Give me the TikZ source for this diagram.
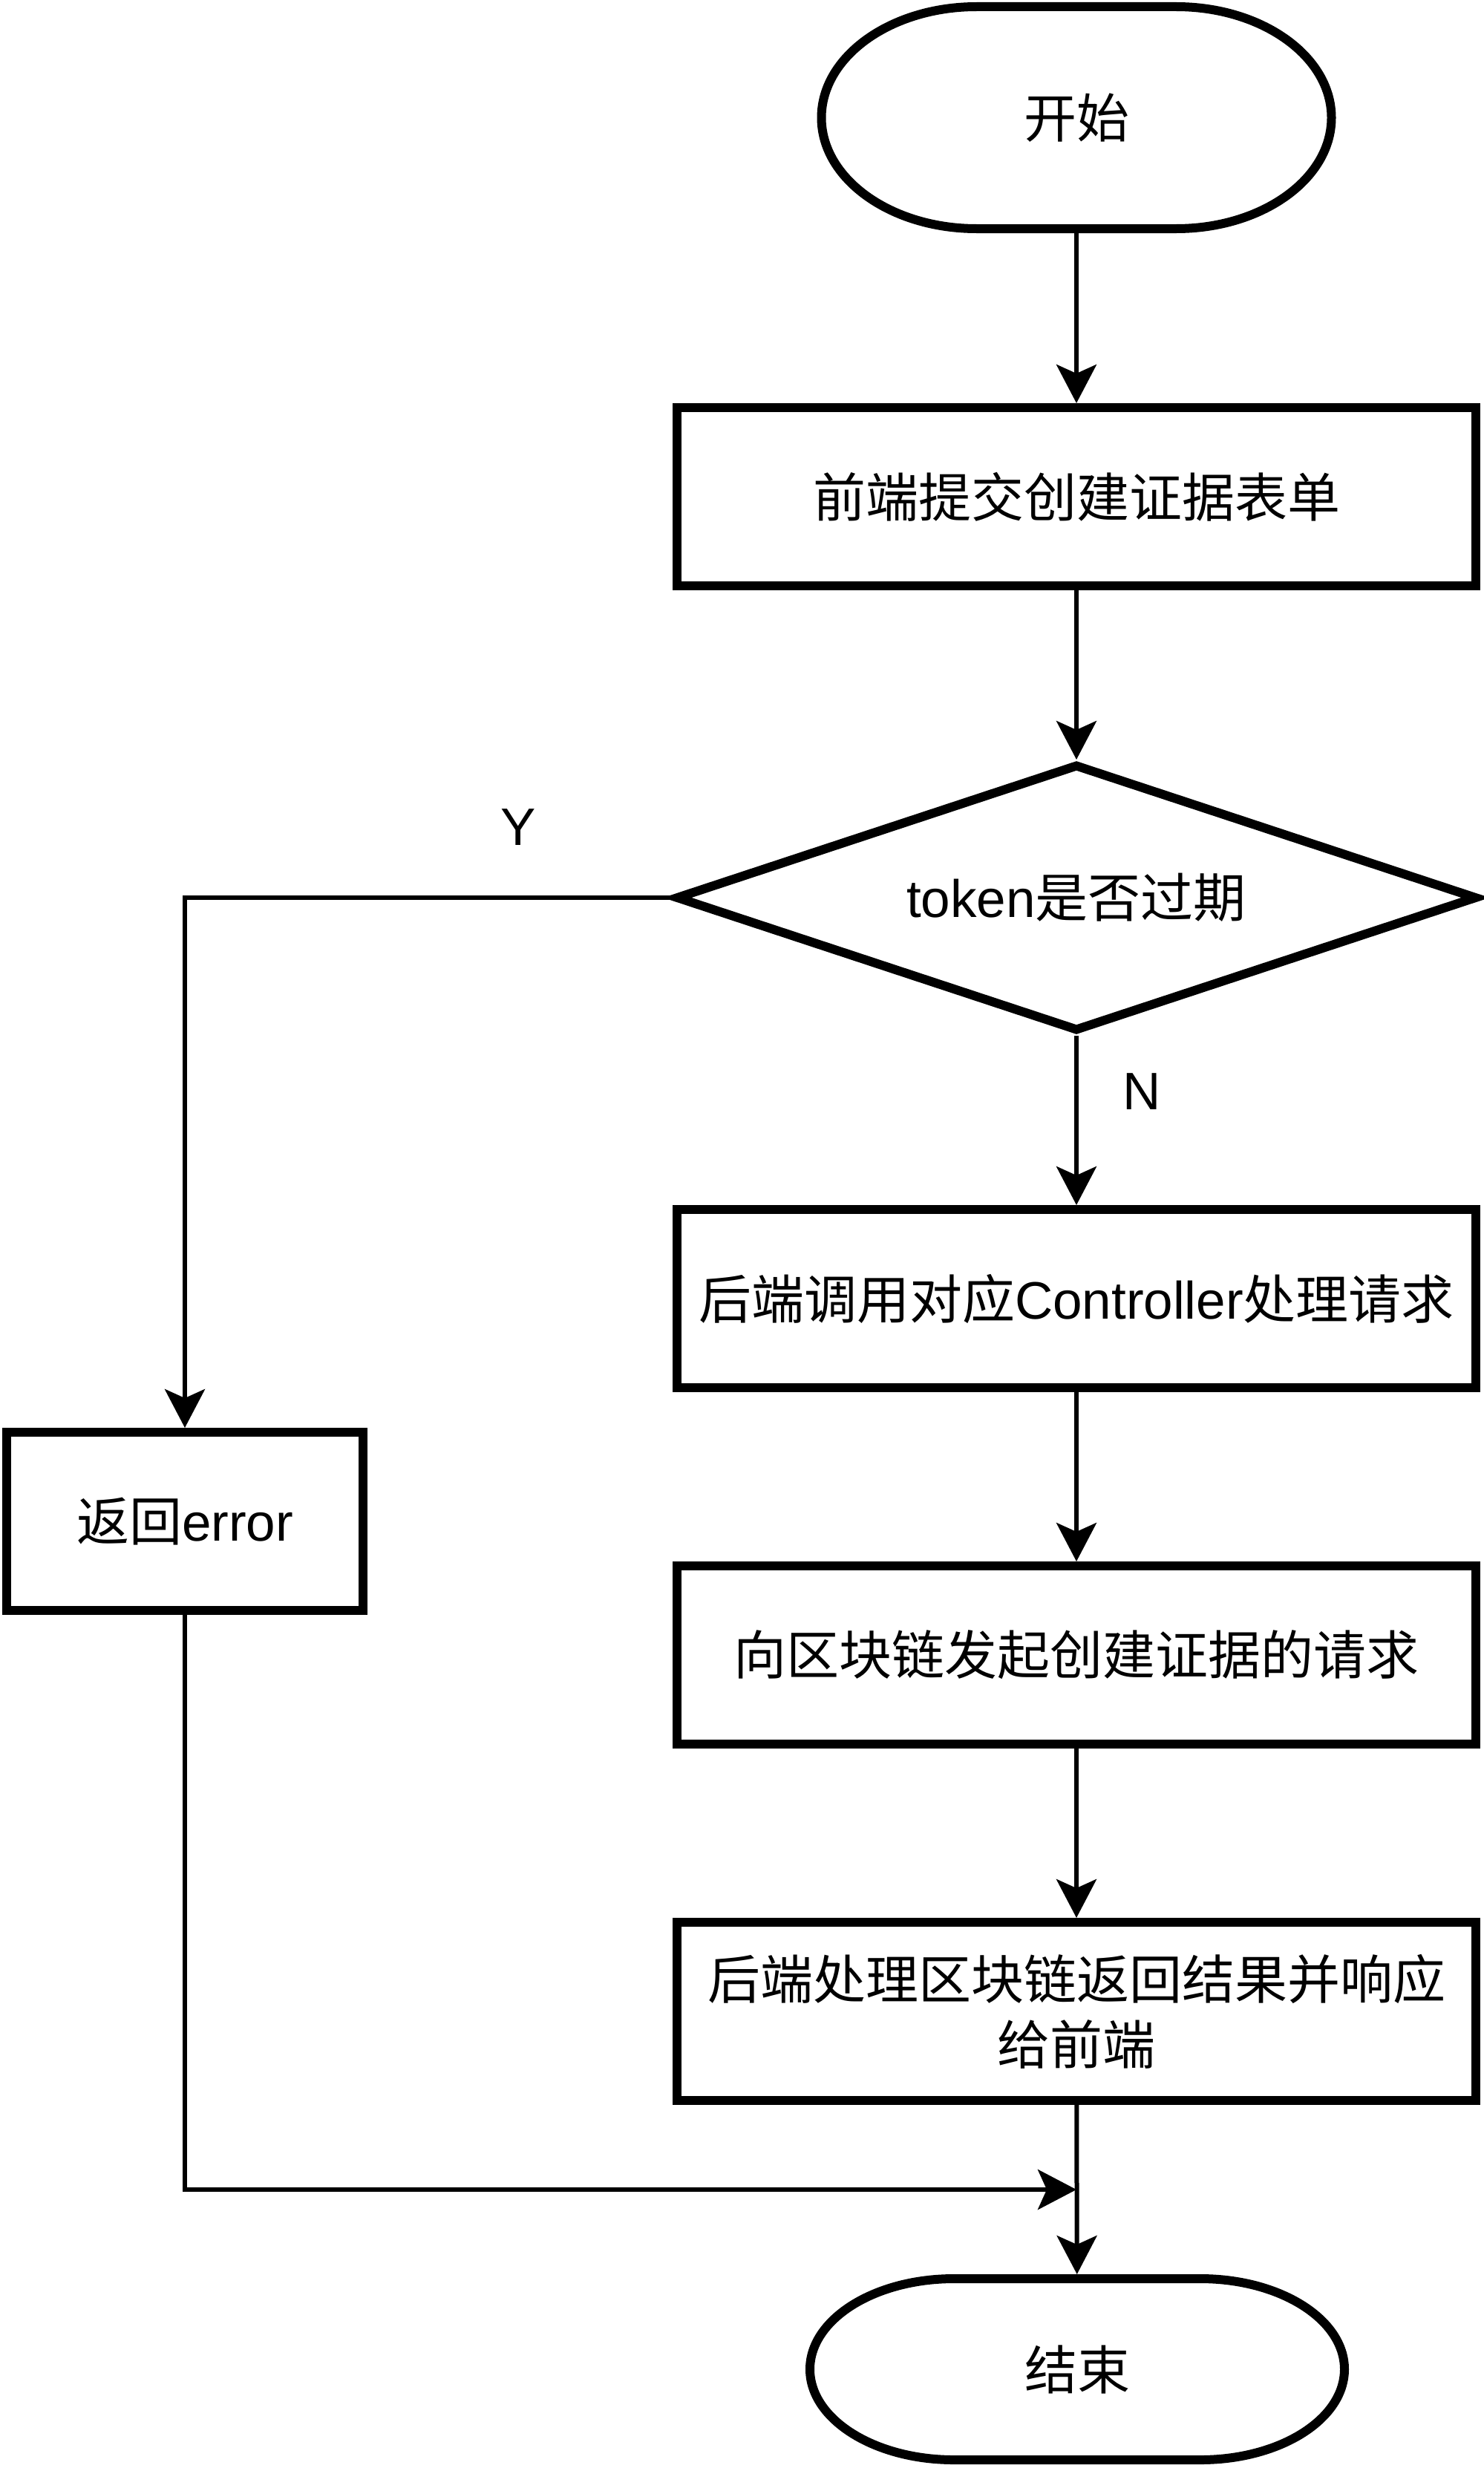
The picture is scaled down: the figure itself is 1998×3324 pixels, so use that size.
\documentclass[tikz,border=0pt]{standalone}
\usepackage{fontspec}
\setmainfont{Liberation Sans}
\newfontfamily\cjk{Noto Sans CJK SC}
\usetikzlibrary{shapes.geometric,arrows.meta}
\newcommand\zh[1]{{\cjk #1}}
% terminator outline: node name, corner x radius, corner y radius
\newcommand\terminator[3]{%
  \draw[line width=6pt]
    ([xshift=#2]#1.north west) -- ([xshift=-#2]#1.north east)
    arc[start angle=90,end angle=-90,x radius=#2,y radius=#3]
    -- ([xshift=#2]#1.south west)
    arc[start angle=270,end angle=90,x radius=#2,y radius=#3] -- cycle;}
\begin{document}
\begin{tikzpicture}[x=0.5pt,y=-0.5pt,
  every node/.style={font=\fontsize{35.5}{44}\selectfont, inner sep=0pt},
  termbox/.style={rectangle, outer sep=0pt},
  proc/.style={draw, line width=6pt, rectangle, minimum width=538pt,
    minimum height=120pt, align=center},
  decision/.style={draw, line width=6pt, diamond, aspect=2.97,
    minimum width=540pt, minimum height=180pt},
  conn/.style={line width=3pt, -{Stealth[length=26pt,width=27pt,inset=6pt]}},
  plain/.style={line width=3pt}]

\fill[white] (0,0) rectangle (1998,3324);
\useasboundingbox (0,0) rectangle (1998,3324);

% terminators
\node[termbox, minimum width=343.5pt, minimum height=149.5pt] (start) at (1450,158.5) {\zh{开始}};
\terminator{start}{104.5pt}{74.75pt}
\node[termbox, minimum width=360pt, minimum height=122pt] (stop) at (1451,3191) {\zh{结束}};
\terminator{stop}{97pt}{61pt}

% process steps
\node[proc] (form) at (1450,669) {\zh{前端提交创建证据表单}};
\node[decision] (check) at (1450,1209) {token\zh{是否过期}};
\node[proc] (ctrl) at (1450,1749) {\zh{后端调用对应}Controller\zh{处理请求}};
\node[proc] (chain) at (1450,2229) {\zh{向区块链发起创建证据的请求}};
\node[proc] (reply) at (1450,2709) {\zh{后端处理区块链返回结果并响应}\\\zh{给前端}};
\node[proc, minimum width=240pt] (err) at (249,2049) {\zh{返回}error};

% branch labels
\node (ylab) at (698,1114) {Y};
\node (nlab) at (1538,1470) {N};

% connectors
\draw[conn] (start) -- (form);
\draw[conn] (form) -- (check);
\draw[conn] (check) -- (ctrl);
\draw[conn] (check.west) -| (err.north);
\draw[conn] (ctrl) -- (chain);
\draw[conn] (chain) -- (reply);
\draw[conn, shorten >=3pt] (reply) -- (stop);
\coordinate (join) at (1450,2949);
\draw[conn] (err.south) |- (join);
\end{tikzpicture}
\end{document}
